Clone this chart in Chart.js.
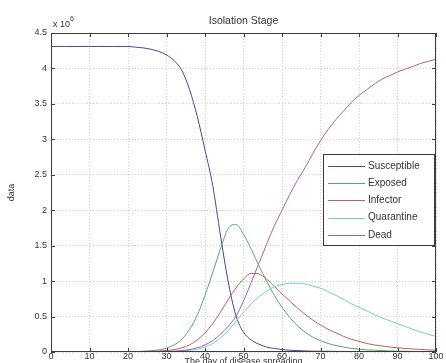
<!DOCTYPE html>
<html>
<head>
<meta charset="utf-8">
<script src="https://cdn.jsdelivr.net/npm/chart.js@4.4.0/dist/chart.umd.min.js"></script>
<style>
  html, body { margin: 0; padding: 0; background: #fff; }
  #wrap { width: 446px; height: 363px; position: relative; }
</style>
</head>
<body>
<div id="wrap"><canvas id="chart" width="446" height="363"></canvas></div>
<script>
// days (x) and population values in units of 10^6
const days = [0,2,4,6,8,10,12,14,16,18,20,22,24,26,28,30,32,34,36,38,40,42,44,46,48,50,
  52,54,56,58,60,62,64,66,68,70,72,74,76,78,80,82,84,86,88,90,92,94,96,98,100];

const susceptible = [4.31,4.31,4.31,4.31,4.31,4.31,4.31,4.31,4.31,4.31,4.31,
  4.30,4.29,4.27,4.24,4.19,4.11,3.97,3.70,3.32,2.85,2.35,1.65,1.0,0.52,0.28,
  0.17,0.11,0.07,0.05,0.035,0.025,0.02,0.015,0.012,0.01,0.01,0.008,0.008,0.007,0.006,
  0.006,0.005,0.005,0.005,0.004,0.004,0.004,0.004,0.003,0.003];

const exposed = [0,0,0,0,0,0.001,0.001,0.002,0.002,0.003,0.004,
  0.006,0.01,0.018,0.03,0.055,0.1,0.18,0.32,0.52,0.8,1.12,1.45,1.74,1.8,1.66,
  1.45,1.22,1.0,0.8,0.63,0.49,0.37,0.28,0.21,0.16,0.12,0.09,0.07,0.05,0.04,
  0.03,0.025,0.02,0.015,0.012,0.01,0.008,0.006,0.005,0.004];

const infector = [0,0,0,0,0,0.001,0.001,0.001,0.002,0.002,0.003,
  0.004,0.006,0.009,0.014,0.022,0.035,0.06,0.1,0.17,0.27,0.4,0.56,0.74,0.9,1.03,
  1.11,1.1,1.03,0.93,0.82,0.72,0.62,0.53,0.45,0.38,0.32,0.27,0.22,0.18,0.15,
  0.12,0.1,0.085,0.07,0.06,0.05,0.042,0.036,0.03,0.025];

const quarantine = [0,0,0,0,0,0,0,0,0,0,0,
  0,0.001,0.002,0.003,0.005,0.008,0.014,0.024,0.04,0.07,0.12,0.2,0.3,0.43,0.56,
  0.68,0.78,0.86,0.92,0.95,0.97,0.97,0.96,0.93,0.9,0.85,0.8,0.74,0.68,0.63,
  0.58,0.53,0.48,0.44,0.4,0.36,0.32,0.28,0.25,0.22];

const dead = [0,0,0,0,0,0,0,0,0,0,0,
  0.001,0.002,0.003,0.005,0.008,0.013,0.02,0.035,0.06,0.1,0.16,0.25,0.36,0.5,0.72,
  0.98,1.25,1.52,1.78,2.0,2.22,2.42,2.6,2.8,2.98,3.14,3.28,3.4,3.52,3.62,
  3.7,3.78,3.85,3.9,3.95,3.99,4.03,4.07,4.1,4.13];

const seriesNames = ['Susceptible', 'Exposed', 'Infector', 'Quarantine', 'Dead'];
const seriesData = [susceptible, exposed, infector, quarantine, dead];
const seriesColors = ['#47479b', '#55a865', '#bf5f5f', '#72cccc', '#ad5cad'];

const xTicks = [0,10,20,30,40,50,60,70,80,90,100];
const yTicks = [0,0.5,1,1.5,2,2.5,3,3.5,4,4.5];

const FONT = '"Liberation Sans", Arial, sans-serif';

// frame, inward ticks, titles and legend in matlab style
const matlabDecor = {
  id: 'matlabDecor',
  afterDraw(chart) {
    const ctx = chart.ctx;
    const a = chart.chartArea;
    const xs = chart.scales.x, ys = chart.scales.y;
    ctx.save();
    ctx.strokeStyle = '#3c3c3c';
    ctx.lineWidth = 1;
    ctx.strokeRect(a.left + 0.5, a.top + 0.5, a.right - a.left - 1, a.bottom - a.top - 1);
    ctx.beginPath();
    xTicks.forEach(t => {
      const px = Math.round(xs.getPixelForValue(t)) + 0.5;
      ctx.moveTo(px, a.bottom); ctx.lineTo(px, a.bottom - 4);
      ctx.moveTo(px, a.top); ctx.lineTo(px, a.top + 4);
    });
    yTicks.forEach(t => {
      const py = Math.round(ys.getPixelForValue(t)) + 0.5;
      ctx.moveTo(a.left, py); ctx.lineTo(a.left + 4, py);
      ctx.moveTo(a.right, py); ctx.lineTo(a.right - 4, py);
    });
    ctx.stroke();

    ctx.fillStyle = '#333';
    ctx.font = '10.5px ' + FONT;
    ctx.textAlign = 'center';
    ctx.textBaseline = 'alphabetic';
    ctx.fillText('Isolation Stage', (a.left + a.right) / 2, 24);

    ctx.textAlign = 'left';
    ctx.font = '9px ' + FONT;
    ctx.fillText('x 10', a.left + 2, 27);
    ctx.font = '7px ' + FONT;
    ctx.fillText('6', a.left + 19, 21);

    ctx.font = '9px ' + FONT;
    ctx.textAlign = 'center';
    ctx.fillText('The day of disease spreading', (a.left + a.right) / 2, 364);

    ctx.save();
    ctx.translate(14, (a.top + a.bottom) / 2);
    ctx.rotate(-Math.PI / 2);
    ctx.fillText('data', 0, 0);
    ctx.restore();

    // legend box
    const lx = 323, ly = 154, lw = 111, lh = 91;
    ctx.fillStyle = '#fff';
    ctx.fillRect(lx, ly, lw, lh);
    ctx.strokeStyle = '#3c3c3c';
    ctx.strokeRect(lx + 0.5, ly + 0.5, lw, lh);
    ctx.font = '10px ' + FONT;
    ctx.textAlign = 'left';
    ctx.textBaseline = 'middle';
    seriesNames.forEach((name, i) => {
      const y = ly + 12 + i * 17.2;
      ctx.strokeStyle = seriesColors[i];
      ctx.beginPath();
      ctx.moveTo(lx + 5, Math.round(y) + 0.5);
      ctx.lineTo(lx + 42, Math.round(y) + 0.5);
      ctx.stroke();
      ctx.fillStyle = '#333';
      ctx.fillText(name, lx + 45, y);
    });
    ctx.restore();
  }
};

new Chart(document.getElementById('chart').getContext('2d'), {
  type: 'line',
  data: {
    datasets: seriesNames.map((name, i) => ({
      label: name,
      data: days.map((d, j) => ({ x: d, y: seriesData[i][j] })),
      borderColor: seriesColors[i],
      borderWidth: 1,
      pointRadius: 0,
      fill: false,
      cubicInterpolationMode: 'monotone',
      order: seriesNames.length - i
    }))
  },
  options: {
    responsive: false,
    animation: false,
    layout: { padding: { top: 33, right: 10, left: 0, bottom: 0 } },
    plugins: {
      legend: { display: false },
      tooltip: { enabled: false },
      title: { display: false }
    },
    scales: {
      x: {
        type: 'linear',
        min: 0, max: 100,
        afterBuildTicks: axis => { axis.ticks = xTicks.map(v => ({ value: v })); },
        afterFit: axis => { axis.height = 11; },
        ticks: { font: { family: FONT, size: 9 }, color: '#333', padding: -1, maxRotation: 0,
                 callback: v => String(v) },
        grid: { color: '#cfcfcf', drawTicks: false },
        border: { display: false, dash: [1, 2] }
      },
      y: {
        min: 0, max: 4.5,
        afterBuildTicks: axis => { axis.ticks = yTicks.map(v => ({ value: v })); },
        afterFit: axis => { axis.width = 51; },
        ticks: { font: { family: FONT, size: 9 }, color: '#333', padding: 4,
                 callback: v => String(v) },
        grid: { color: '#cfcfcf', drawTicks: false },
        border: { display: false, dash: [1, 2] }
      }
    }
  },
  plugins: [matlabDecor]
});
</script>
</body>
</html>
